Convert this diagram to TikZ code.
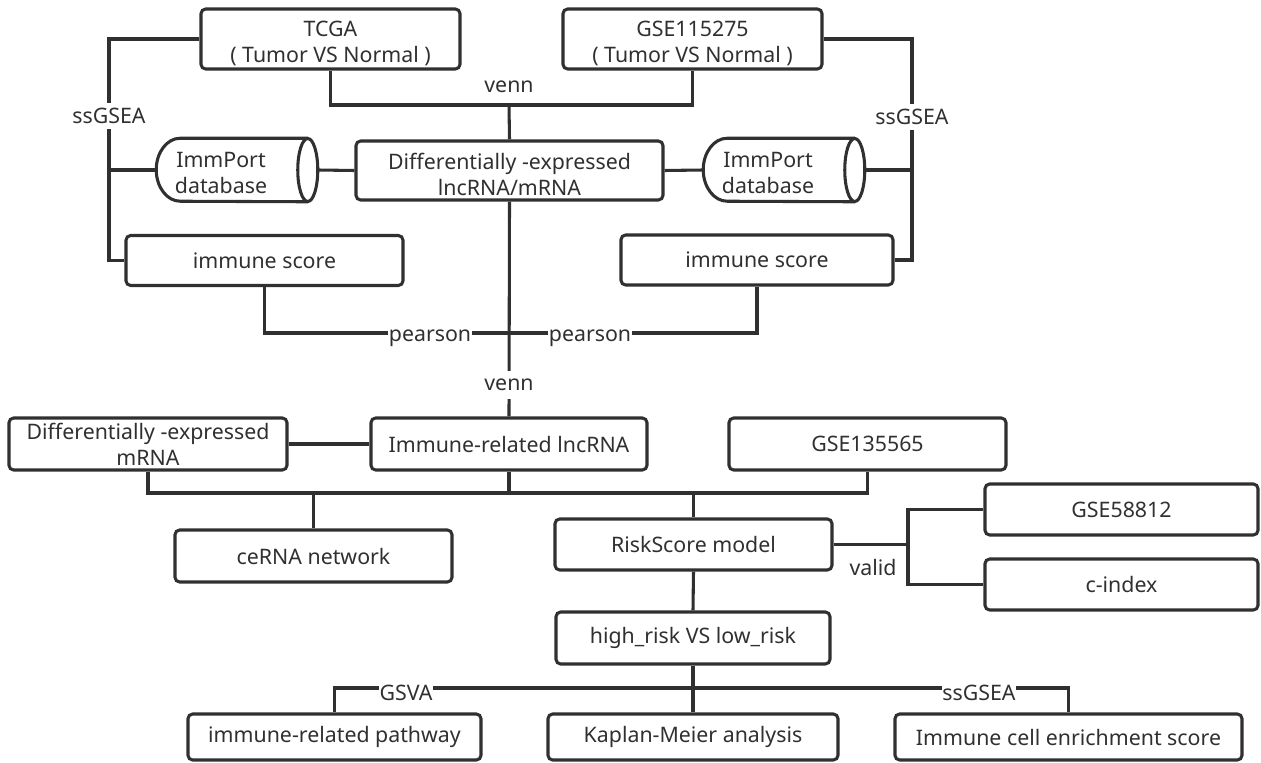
\documentclass[tikz,border=0pt]{standalone}
\usepackage{fontspec}
\setmainfont{Noto Sans}
\usetikzlibrary{calc}
\definecolor{ink}{RGB}{48,48,48}
\newcommand{\topstrut}{\rule{0pt}{18pt}}
\begin{document}
\begin{tikzpicture}[x=0.75pt,y=-0.75pt,
  every node/.style={font=\fontsize{16}{19.5}\selectfont, text=ink},
  bx/.style 2 args={draw=ink, line width=2.3pt, rounded corners=3.5pt,
    minimum width=#1*0.75pt, minimum height=#2*0.75pt, inner sep=0pt, align=center},
  cylbox/.style={minimum width=161*0.75pt, minimum height=63*0.75pt, inner sep=0pt},
  conn/.style={draw=ink, line width=2.3pt},
  lbl/.style={fill=white, inner xsep=0.5pt, inner ysep=4pt}]
\useasboundingbox (0,0) rectangle (1261,763);

% ---- nodes ----
\node[bx={259}{60}] (tcga) at (330.5,39) {\topstrut TCGA\\( Tumor VS Normal )};
\node[bx={259}{60}] (gseA) at (692.5,39) {\topstrut GSE115275\\( Tumor VS Normal )};
\node[bx={307}{59}] (de) at (509.5,170.5) {\topstrut Differentially -expressed\\lncRNA/mRNA};
\node[cylbox, label={[align=center, xshift=-12pt, yshift=-2pt]center:ImmPort\\database}] (cylL) at (237,170) {};
\node[cylbox, label={[align=center, xshift=-12pt, yshift=-2pt]center:ImmPort\\database}] (cylR) at (784,170) {};
\node[bx={277}{50}] (immL) at (264.5,260.5) {immune score};
\node[bx={272}{50}] (immR) at (757,260) {immune score};
\node[bx={276}{52}] (irl) at (509,444) {Immune-related lncRNA};
\node[bx={278}{52}] (dem) at (148,444) {Differentially -expressed\\mRNA};
\node[bx={277}{52}] (gseB) at (867.5,444) {GSE135565};
\node[bx={277}{52}] (cerna) at (313.5,556) {ceRNA network};
\node[bx={277}{51}] (risk) at (693.5,544.5) {RiskScore model};
\node[bx={273}{51}] (gseC) at (1121.5,509.5) {GSE58812};
\node[bx={273}{51}] (cidx) at (1121.5,584.5) {c-index};
\node[bx={274}{52}] (hl) at (693,638) {high\_risk VS low\_risk};
\node[bx={293}{46}] (path) at (334.5,737) {immune-related pathway};
\node[bx={290}{46}] (km) at (693,737) {Kaplan-Meier analysis};
\node[bx={347}{46}] (icell) at (1068.5,737) {Immune cell enrichment score};

% ---- cylinders ----
\foreach \c in {cylL,cylR}{
  \draw[ink, line width=2.3pt] ($(\c.north east)+(-10,0)$) -- ($(\c.north west)+(24,0)$)
    arc[start angle=90, end angle=270, x radius=18pt, y radius=23.625pt]
    -- ($(\c.south east)+(-10,0)$);
  \draw[ink, line width=2.3pt] ($(\c.east)+(-10,0)$) ellipse[x radius=7.5pt, y radius=23.625pt];
}

% ---- coordinates ----
\coordinate (vj) at (509,105);
\coordinate (lbx) at (109,105);
\coordinate (rbx) at (912,105);
\coordinate (pj) at (509,333);
\coordinate (jn) at (509,493);
\coordinate (vx) at (908,544.5);
\coordinate (bj) at (693,688);

% ---- top venn ----
\draw[conn] (tcga.south) |- (vj) -| (gseA.south);
\draw[conn] (vj) -- (de.north);
\node (venn1) at (509,87) {venn};

% ---- ssGSEA brackets ----
\draw[conn] (tcga.west) -- (tcga.west -| lbx) -- (immL.west -| lbx) -- (immL.west);
\draw[conn] (cylL.west) -- (cylL.west -| lbx);
\draw[conn] (gseA.east) -- (gseA.east -| rbx) -- (immR.east -| rbx) -- (immR.east);
\draw[conn] (cylR.east) -- (cylR.east -| rbx);
\node[lbl] (ssl) at (109,116) {ssGSEA};
\node[lbl] (ssr) at (912,117) {ssGSEA};

% ---- DE to cylinders ----
\draw[conn] (cylL.east) -- (de.west);
\draw[conn] (de.east) -- (cylR.west);

% ---- pearson / venn ----
\draw[conn] (immL.south) |- (pj) -| (immR.south);
\draw[conn] (de.south) -- (irl.north);
\node[lbl] (p1) at (430,338) {pearson};
\node[lbl] (p2) at (590,338) {pearson};
\node[lbl, inner ysep=6pt] (venn2) at (509,385) {venn};

% ---- middle ----
\draw[conn] (dem.east) -- (irl.west);
\draw[conn] (dem.south) -- (dem.south |- jn) -- (gseB.south |- jn) -- (gseB.south);
\draw[conn] (irl.south) -- (jn);
\draw[conn] (cerna.north |- jn) -- (cerna.north);
\draw[conn] (risk.north |- jn) -- (risk.north);

% ---- valid ----
\draw[conn] (risk.east) -- (vx);
\draw[conn] (gseC.west) -- (gseC.west -| vx) -- (cidx.west -| vx) -- (cidx.west);
\node (valid) at (873,567) {valid};

% ---- bottom ----
\draw[conn] (risk.south) -- (hl.north);
\draw[conn] (path.north) -- (path.north |- bj) -- (icell.north |- bj) -- (icell.north);
\draw[conn] (hl.south) -- (km.north);
\node[lbl] (gsva) at (406,693) {GSVA};
\node[lbl] (ssb) at (979,693) {ssGSEA};
\end{tikzpicture}
\end{document}
